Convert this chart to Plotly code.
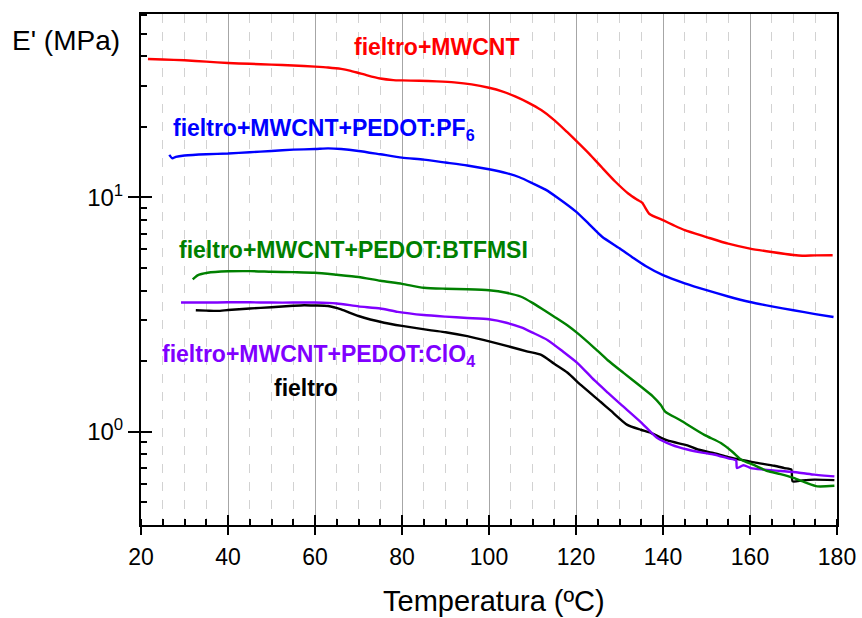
import numpy as np
import plotly.graph_objects as go

# Storage modulus E' (MPa) against temperature (ºC) for each sample
t_mwcnt = [21.6, 25, 30, 35, 40, 45, 50, 55, 60, 63, 66, 68, 70, 72, 75, 78, 80, 84, 88, 92, 96,
           100, 103, 106, 109, 112, 115, 118, 120, 123, 126, 129, 132, 134, 135.2, 136.9, 140,
           142.5, 145, 150, 155, 160, 165, 170, 172, 175, 179]
e_mwcnt = [39.0, 38.8, 38.5, 38.0, 37.5, 37.2, 36.9, 36.6, 36.2, 35.9, 35.4, 34.8, 34.0, 33.2, 32.2,
           31.7, 31.6, 31.5, 31.3, 31.0, 30.4, 29.4, 28.4, 27.0, 25.4, 23.6, 21.4, 19.0, 17.5, 15.4,
           13.4, 11.7, 10.4, 9.8, 9.5, 8.5, 8.0, 7.6, 7.25, 6.78, 6.35, 6.05, 5.85, 5.68, 5.64,
           5.66, 5.67]

t_pf6 = [26.5, 27.2, 28, 30, 35, 40, 45, 50, 55, 60, 63, 66, 70, 75, 80, 85, 90, 95, 100, 104,
         107, 110, 113, 116, 120, 123, 126, 130, 133, 136, 140, 145, 150, 155, 160, 165, 170,
         175, 179.2]
e_pf6 = [15.2, 14.7, 14.9, 15.1, 15.3, 15.4, 15.6, 15.8, 16.0, 16.1, 16.2, 16.1, 15.8, 15.3, 14.8,
         14.5, 14.1, 13.7, 13.2, 12.7, 12.2, 11.5, 10.8, 9.9, 8.7, 7.7, 6.8, 6.07, 5.55, 5.1, 4.66,
         4.3, 4.02, 3.78, 3.58, 3.43, 3.30, 3.18, 3.09]

t_btfmsi = [31.9, 33, 35.3, 40, 45, 50, 55, 60, 65, 70, 75, 80, 85, 90, 95, 100, 104, 107.4, 110,
            112.7, 115, 118, 120.4, 124, 127.3, 131, 134.9, 137.6, 139.5, 140.5, 144, 149.5,
            153.3, 156, 158, 161, 164, 167, 170, 173, 175.5, 179.4]
e_btfmsi = [4.47, 4.65, 4.77, 4.84, 4.85, 4.82, 4.80, 4.77, 4.68, 4.58, 4.41, 4.28, 4.12, 4.08,
            4.06, 4.02, 3.92, 3.77, 3.55, 3.30, 3.10, 2.85, 2.63, 2.30, 2.02, 1.78, 1.56, 1.42,
            1.30, 1.22, 1.12, 0.97, 0.895, 0.82, 0.76, 0.72, 0.68, 0.66, 0.636, 0.605, 0.585, 0.588]

t_clo4 = [29.2, 35, 40, 45, 50, 55, 60, 65, 70, 75, 79, 85, 90, 95, 100, 104, 107.4, 110, 113.5,
          117, 120.4, 124.2, 127.3, 130.3, 134.9, 138.7, 142, 145.6, 149, 151.7, 155, 156.8,
          157.0, 158.5, 160.2, 163, 167.1, 171, 174.8, 177, 179.4]
e_clo4 = [3.56, 3.56, 3.57, 3.57, 3.56, 3.56, 3.56, 3.53, 3.43, 3.36, 3.25, 3.15, 3.10, 3.06,
          3.02, 2.92, 2.79, 2.65, 2.46, 2.20, 1.96, 1.66, 1.47, 1.31, 1.10, 0.94, 0.88, 0.84,
          0.815, 0.80, 0.77, 0.755, 0.70, 0.72, 0.70, 0.69, 0.68, 0.67, 0.656, 0.65, 0.645]

t_felt = [32.6, 35, 37.6, 40, 45, 50, 55, 57.5, 60, 63, 66, 70, 75.9, 80, 86.7, 90, 95, 100.5,
          105, 108.9, 112, 115, 118, 121.1, 125.7, 128, 131.8, 134.9, 137.2, 141, 145.6, 148,
          151.7, 155, 157.9, 161, 165.6, 167.9, 169.5, 169.8, 172, 174.8, 179.4]
e_felt = [3.30, 3.29, 3.28, 3.31, 3.36, 3.40, 3.45, 3.47, 3.46, 3.44, 3.33, 3.12, 2.92, 2.83,
          2.71, 2.66, 2.56, 2.42, 2.30, 2.20, 2.13, 1.95, 1.79, 1.585, 1.34, 1.23, 1.07, 1.02,
          0.99, 0.918, 0.875, 0.84, 0.81, 0.78, 0.76, 0.74, 0.716, 0.70, 0.69, 0.614, 0.62,
          0.625, 0.622]

x_ticks = [20, 40, 60, 80, 100, 120, 140, 160, 180]
y_ticks = [1, 10]
y_ticktext = ["10<sup>0</sup>", "10<sup>1</sup>"]
y_minor = [0.5, 0.6, 0.7, 0.8, 0.9, 2, 3, 4, 5, 6, 7, 8, 9, 20, 30, 40, 50, 60]

X_RANGE = [20, 180]
Y_RANGE = [np.log10(0.40), np.log10(60.7)]

FONT = "Arial, 'Liberation Sans', sans-serif"
RED, BLUE, GREEN, PURPLE, BLACK = "#ff0000", "#0000ff", "#008000", "#8000ff", "#000000"
LW = 2.4

fig = go.Figure()

def add_line(t, e, color, **kw):
    fig.add_trace(go.Scatter(x=t, y=e, mode="lines",
                             line=dict(color=color, width=LW, shape="spline", smoothing=0.6),
                             showlegend=False, hoverinfo="skip", **kw))

add_line(t_pf6, e_pf6, BLUE)
add_line(t_felt, e_felt, BLACK)
add_line(t_clo4, e_clo4, PURPLE)
add_line(t_btfmsi, e_btfmsi, GREEN)
# red curve sits on the overlay axes, which carry the inward half of the major ticks
add_line(t_mwcnt, e_mwcnt, RED, xaxis="x2", yaxis="y2")

fig.update_layout(
    width=862, height=618,
    margin=dict(l=141, r=25, t=14, b=93, autoexpand=False),
    paper_bgcolor="white", plot_bgcolor="white",
    font=dict(family=FONT, color="black"),
    xaxis=dict(
        range=X_RANGE, tickmode="array", tickvals=x_ticks, automargin=False,
        ticks="outside", ticklen=8, tickwidth=2, tickcolor="black",
        tickfont=dict(size=23, family=FONT), ticklabelstandoff=2,
        showline=True, linewidth=2, linecolor="black", mirror=True,
        showgrid=True, gridcolor="#a6a6a6", gridwidth=1, zeroline=False,
        minor=dict(dtick=5, tick0=0, ticks="inside", ticklen=6, tickwidth=2,
                   tickcolor="black", showgrid=True, gridcolor="#d2d2d2",
                   griddash="dash", gridwidth=1),
    ),
    yaxis=dict(
        type="log", range=Y_RANGE, tickmode="array", tickvals=y_ticks, ticktext=y_ticktext,
        automargin=False,
        ticks="outside", ticklen=11, tickwidth=2, tickcolor="black",
        tickfont=dict(size=24, family=FONT),
        showline=True, linewidth=2, linecolor="black", mirror=True,
        showgrid=False, zeroline=False,
        minor=dict(tickmode="array", tickvals=y_minor, ticks="inside", ticklen=6,
                   tickwidth=2, tickcolor="black", showgrid=False),
    ),
    xaxis2=dict(
        range=X_RANGE, overlaying="x", anchor="y2", side="bottom", automargin=False,
        tickmode="array", tickvals=x_ticks, ticks="inside", ticklen=10, tickwidth=2,
        tickcolor="black", showticklabels=False, showgrid=False, showline=False,
        zeroline=False,
    ),
    yaxis2=dict(
        type="log", range=Y_RANGE, overlaying="y", anchor="x2", side="left", automargin=False,
        tickmode="array", tickvals=y_ticks, ticks="inside", ticklen=11, tickwidth=2,
        tickcolor="black", showticklabels=False, showgrid=False, showline=False,
        zeroline=False,
    ),
)

LABEL_SIZE = 23
labels = [
    ("fieltro+MWCNT", 68.5, 44.0, RED),
    ("fieltro+MWCNT+PEDOT:PF<sub>6</sub>", 27.0, 19.6, BLUE),
    ("fieltro+MWCNT+PEDOT:BTFMSI", 28.2, 5.95, GREEN),
    ("fieltro+MWCNT+PEDOT:ClO<sub>4</sub>", 24.3, 2.12, PURPLE),
    ("fieltro", 50.0, 1.54, BLACK),
]
for text, x, y, color in labels:
    fig.add_annotation(text="<b>" + text + "</b>", x=x, y=np.log10(y), xref="x", yref="y",
                       xanchor="left", yanchor="middle", showarrow=False,
                       font=dict(size=LABEL_SIZE, color=color, family=FONT))

fig.add_annotation(text="E' (MPa)", xref="paper", yref="paper", x=-0.188, y=0.948,
                   xanchor="left", yanchor="middle", showarrow=False,
                   font=dict(size=28, family=FONT, color="black"))
fig.add_annotation(text="Temperatura (ºC)", xref="paper", yref="paper", x=0.507, y=-0.148,
                   xanchor="center", yanchor="middle", showarrow=False,
                   font=dict(size=29, family=FONT, color="black"))

fig.write_html("out.html")
